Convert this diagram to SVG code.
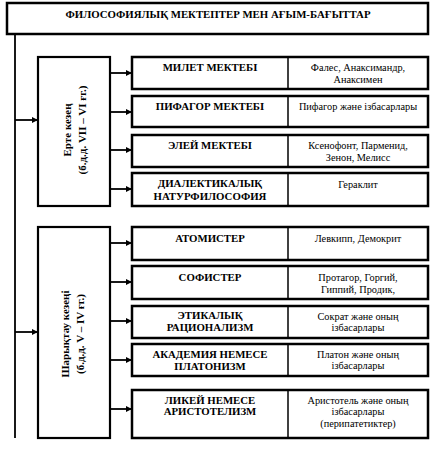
<svg xmlns="http://www.w3.org/2000/svg" width="440" height="450" viewBox="0 0 440 450">
<defs>
<marker id="ah" markerWidth="6" markerHeight="6" refX="5" refY="3" orient="auto" markerUnits="userSpaceOnUse">
<path d="M0,0 L6,3 L0,6 Z" fill="#000"/>
</marker>
</defs>
<style>
.box{fill:#fff;stroke:#000;stroke-width:2.5}
.grp{fill:#fff;stroke:#000;stroke-width:2.2}
.div{stroke:#000;stroke-width:1.5}
.b{font-family:"Liberation Serif","Times New Roman",serif;font-weight:bold;font-size:10.8px;text-anchor:middle;fill:#000}
.r{font-family:"Liberation Serif","Times New Roman",serif;font-size:10.3px;text-anchor:middle;fill:#000}
.v{font-family:"Liberation Serif","Times New Roman",serif;font-weight:bold;font-size:11px;text-anchor:middle;fill:#000}
.c{fill:none;stroke:#000;stroke-width:1.8}
.ca{fill:none;stroke:#000;stroke-width:1.8;marker-end:url(#ah)}
</style>
<rect width="440" height="450" fill="#fff"/>
<g id="connectors">
<line class="c" x1="15" y1="34" x2="15" y2="438"/>
<line class="ca" x1="15" y1="120" x2="37" y2="120"/>
<line class="ca" x1="15" y1="332" x2="37" y2="332"/>
<line class="ca" x1="110" y1="73" x2="131" y2="73"/>
<line class="ca" x1="110" y1="112" x2="131" y2="112"/>
<line class="ca" x1="110" y1="150" x2="131" y2="150"/>
<line class="ca" x1="110" y1="189" x2="131" y2="189"/>
<line class="ca" x1="110" y1="243" x2="131" y2="243"/>
<line class="ca" x1="110" y1="282" x2="131" y2="282"/>
<line class="ca" x1="110" y1="321" x2="131" y2="321"/>
<line class="ca" x1="110" y1="360" x2="131" y2="360"/>
<line class="ca" x1="110" y1="409" x2="131" y2="409"/>
</g>
<g id="title">
<rect class="box" x="7" y="3" width="421" height="31"/>
<text class="b" x="218" y="18" font-size="10.7">ФИЛОСОФИЯЛЫҚ МЕКТЕПТЕР МЕН АҒЫМ-БАҒЫТТАР</text>
</g>
<g id="early">
<rect class="grp" x="38" y="57" width="72" height="149"/>
<text class="v" transform="translate(70.5,130) rotate(-90)">Ерте кезең</text>
<text class="v" transform="translate(85.5,130) rotate(-90)">(б.д.д. VII – VI ғг.)</text>
</g>
<g id="miletus">
<rect class="box" x="132" y="57" width="296" height="32"/>
<line class="div" x1="288" y1="57" x2="288" y2="89"/>
<text class="b" x="210" y="71">МИЛЕТ МЕКТЕБІ</text>
<text class="r" x="358" y="71">Фалес, Анаксимандр,</text>
<text class="r" x="358" y="83">Анаксимен</text>
</g>
<g id="pythagoras">
<rect class="box" x="132" y="96" width="296" height="31"/>
<line class="div" x1="288" y1="96" x2="288" y2="127"/>
<text class="b" x="210" y="110">ПИФАГОР МЕКТЕБІ</text>
<text class="r" x="358" y="110">Пифагор және ізбасарлары</text>
</g>
<g id="elea">
<rect class="box" x="132" y="135" width="296" height="32"/>
<line class="div" x1="288" y1="135" x2="288" y2="167"/>
<text class="b" x="210" y="149">ЭЛЕЙ МЕКТЕБІ</text>
<text class="r" x="358" y="149">Ксенофонт, Парменид,</text>
<text class="r" x="358" y="161">Зенон, Мелисс</text>
</g>
<g id="dialectic">
<rect class="box" x="132" y="173" width="296" height="33"/>
<line class="div" x1="288" y1="173" x2="288" y2="206"/>
<text class="b" x="210" y="187">ДИАЛЕКТИКАЛЫҚ</text>
<text class="b" x="210" y="200">НАТУРФИЛОСОФИЯ</text>
<text class="r" x="358" y="188">Гераклит</text>
</g>
<g id="peak">
<rect class="grp" x="38" y="227" width="72" height="211"/>
<text class="v" transform="translate(68.5,334) rotate(-90)">Шарықтау кезеңі</text>
<text class="v" transform="translate(83.5,334) rotate(-90)">(б.д.д. V – IV ғг.)</text>
</g>
<g id="atomists">
<rect class="box" x="132" y="227" width="296" height="33"/>
<line class="div" x1="288" y1="227" x2="288" y2="260"/>
<text class="b" x="210" y="242">АТОМИСТЕР</text>
<text class="r" x="358" y="242">Левкипп, Демокрит</text>
</g>
<g id="sophists">
<rect class="box" x="132" y="266" width="296" height="33"/>
<line class="div" x1="288" y1="266" x2="288" y2="299"/>
<text class="b" x="210" y="281">СОФИСТЕР</text>
<text class="r" x="358" y="281">Протагор, Горгий,</text>
<text class="r" x="358" y="293">Гиппий, Продик,</text>
</g>
<g id="ethical">
<rect class="box" x="132" y="306" width="296" height="32"/>
<line class="div" x1="288" y1="306" x2="288" y2="338"/>
<text class="b" x="210" y="319">ЭТИКАЛЫҚ</text>
<text class="b" x="210" y="331">РАЦИОНАЛИЗМ</text>
<text class="r" x="358" y="320">Сократ және оның</text>
<text class="r" x="358" y="331">ізбасарлары</text>
</g>
<g id="academy">
<rect class="box" x="132" y="344" width="296" height="32"/>
<line class="div" x1="288" y1="344" x2="288" y2="376"/>
<text class="b" x="210" y="358">АКАДЕМИЯ НЕМЕСЕ</text>
<text class="b" x="210" y="370">ПЛАТОНИЗМ</text>
<text class="r" x="358" y="358">Платон және оның</text>
<text class="r" x="358" y="369">ізбасарлары</text>
</g>
<g id="lyceum">
<rect class="box" x="132" y="390" width="296" height="48"/>
<line class="div" x1="288" y1="390" x2="288" y2="438"/>
<text class="b" x="210" y="404">ЛИКЕЙ НЕМЕСЕ</text>
<text class="b" x="210" y="415">АРИСТОТЕЛИЗМ</text>
<text class="r" x="358" y="404">Аристотель және оның</text>
<text class="r" x="358" y="415">ізбасарлары</text>
<text class="r" x="358" y="427">(перипатетиктер)</text>
</g>
</svg>
